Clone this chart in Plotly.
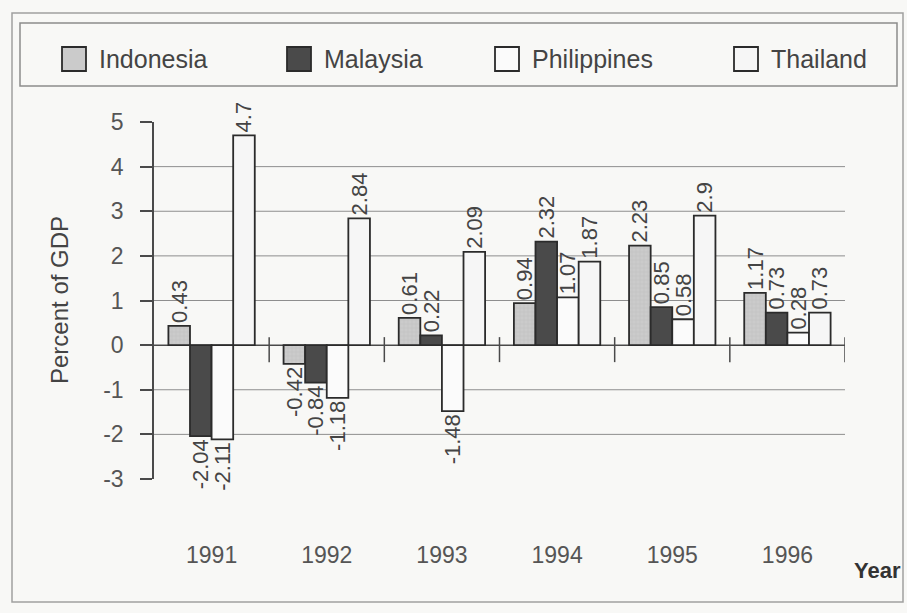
import plotly.graph_objects as go

# Current account balance, percent of GDP
years = [1991, 1992, 1993, 1994, 1995, 1996]
indonesia = [0.43, -0.42, 0.61, 0.94, 2.23, 1.17]
malaysia = [-2.04, -0.84, 0.22, 2.32, 0.85, 0.73]
philippines = [-2.11, -1.18, -1.48, 1.07, 0.58, 0.28]
thailand = [4.7, 2.84, 2.09, 1.87, 2.9, 0.73]

series_names = ["Indonesia", "Malaysia", "Philippines", "Thailand"]
series_values = [indonesia, malaysia, philippines, thailand]
series_fill = ["#cbcbcb", "#4a4a4a", "#fbfbfb", "#f6f6f6"]

y_ticks = [5, 4, 3, 2, 1, 0, -1, -2, -3]
grid_values = [4, 3, 2, 1, -1, -2]

W, H = 907, 613
L, R, T, B = 154, 62, 122, 134
PW, PH = W - L - R, H - T - B
FONT = "Liberation Sans, Arial, sans-serif"
OUTLINE = "#2b2b2b"
AXIS = "#4a4a4a"


def fx(px):
    return (px - L) / PW


def fy(py):
    return (H - B - py) / PH


fig = go.Figure()

for name, vals, fill in zip(series_names, series_values, series_fill):
    marker = dict(color=fill, line=dict(color=OUTLINE, width=1.8))
    if name == "Indonesia":
        marker["pattern"] = dict(shape="+", size=4, solidity=0.25,
                                 fgcolor="#b4b4b4", bgcolor=fill)
    fig.add_trace(go.Bar(
        x=years, y=vals, name=name, marker=marker,
        text=[f"{v:g}" for v in vals], textposition="outside",
        textangle=-90, constraintext="none", cliponaxis=False,
        textfont=dict(family=FONT, size=22, color="#444444"),
        showlegend=False,
    ))

shapes = []
# outer frame and legend box
shapes.append(dict(type="rect", xref="paper", yref="paper",
                   x0=fx(12), x1=fx(903), y0=fy(602), y1=fy(13),
                   line=dict(color="#a0a0a0", width=1.5), layer="below"))
shapes.append(dict(type="rect", xref="paper", yref="paper",
                   x0=fx(20), x1=fx(897), y0=fy(86), y1=fy(23),
                   line=dict(color="#8c8c8c", width=1.5), layer="below"))

# horizontal gridlines
x_lo, x_hi = years[0] - 0.5, years[-1] + 0.5
for g in grid_values:
    shapes.append(dict(type="line", xref="x", yref="y",
                       x0=x_lo, x1=x_hi, y0=g, y1=g,
                       line=dict(color="#8e8e8e", width=1), layer="below"))

# category axis drawn along zero, with ticks on the category boundaries
shapes.append(dict(type="line", xref="x", yref="y", x0=x_lo, x1=x_hi, y0=0, y1=0,
                   line=dict(color=AXIS, width=1.5), layer="below"))
boundaries = [y - 0.5 for y in years] + [x_hi]
for bx in boundaries[1:]:
    shapes.append(dict(type="line", xref="x", yref="y", ysizemode="pixel",
                       yanchor=0, x0=bx, x1=bx, y0=-17, y1=8,
                       line=dict(color=AXIS, width=1.5)))

# legend entries
annotations = []
legend_left = [62, 287, 495, 734]
for name, fill, lx in zip(series_names, series_fill, legend_left):
    shapes.append(dict(type="rect", xref="paper", yref="paper",
                       x0=fx(lx), x1=fx(lx + 24), y0=fy(71), y1=fy(47),
                       fillcolor=fill, line=dict(color=OUTLINE, width=1.8)))
    annotations.append(dict(xref="paper", yref="paper", x=fx(lx + 35), y=fy(59),
                            xanchor="left", yanchor="middle", showarrow=False,
                            text=name, font=dict(family=FONT, size=25, color="#444444")))

annotations.append(dict(xref="paper", yref="paper", x=fx(59), y=fy(300),
                        xanchor="center", yanchor="middle", showarrow=False,
                        textangle=-90, text="Percent of GDP",
                        font=dict(family=FONT, size=24, color="#444444")))
annotations.append(dict(xref="paper", yref="paper", x=fx(877), y=fy(570),
                        xanchor="center", yanchor="middle", showarrow=False,
                        text="<b>Year</b>",
                        font=dict(family=FONT, size=22, color="#333333")))

fig.update_layout(
    width=W, height=H,
    margin=dict(l=L, r=R, t=T, b=B),
    paper_bgcolor="#f8f8f6", plot_bgcolor="#f8f8f6",
    barmode="group", bargap=0.25, bargroupgap=0.0,
    font=dict(family=FONT, color="#444444"),
    xaxis=dict(range=[x_lo, x_hi], tickvals=years,
               ticktext=[str(y) for y in years], showgrid=False, zeroline=False,
               showline=False, ticks="", ticklabelstandoff=60,
               tickfont=dict(family=FONT, size=23, color="#555555")),
    yaxis=dict(range=[-3, 5], tickvals=y_ticks, ticktext=[str(v) for v in y_ticks],
               showgrid=False, zeroline=False,
               showline=True, linecolor=AXIS, linewidth=1.5,
               ticks="outside", ticklen=12, tickwidth=1.5, tickcolor=AXIS,
               ticklabelstandoff=12,
               tickfont=dict(family=FONT, size=23, color="#555555")),
    shapes=shapes, annotations=annotations,
)

fig.write_html("out.html")
